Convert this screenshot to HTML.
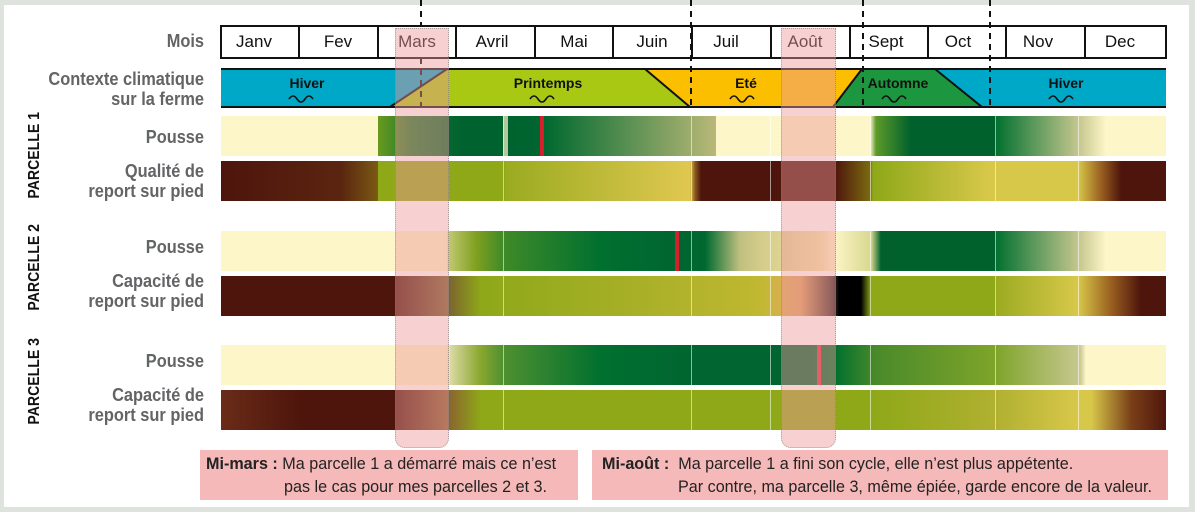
<!DOCTYPE html>
<html><head><meta charset="utf-8"><style>
body{margin:0;width:1195px;height:512px;background:#dfe3de;position:relative;overflow:hidden;font-family:"Liberation Sans",sans-serif}
#panel{position:absolute;left:4px;top:5px;width:1185px;height:502px;background:#fff}
.a{position:absolute}
.lbl{position:absolute;right:991px;text-align:right;color:#636466;font-weight:bold;font-size:18px;line-height:20px;white-space:nowrap;transform:scaleX(.91);transform-origin:right center}
.bar{position:absolute;left:221px;width:945px;height:40px}
.sep{position:absolute;width:1px;background:rgba(255,255,255,.55)}
.par{position:absolute;font-weight:bold;font-size:16px;color:#111;transform:rotate(-90deg) scaleX(.88);transform-origin:center;white-space:nowrap}
.ov{position:absolute;top:28px;height:418px;background:rgba(238,150,152,.45);border:1px dotted rgba(120,120,120,.6);border-radius:0 0 10px 10px}
.box{position:absolute;top:450px;height:50px;background:#f6b9b9;font-size:17px;line-height:22px;color:#222}
.box div{transform:scaleX(.95);transform-origin:left center;white-space:nowrap}
</style></head><body>
<div id="panel"></div>

<div class="lbl" style="top:31px">Mois</div>
<div class="lbl" style="top:69px">Contexte climatique<br>sur la ferme</div>
<div class="lbl" style="top:127px">Pousse</div>
<div class="lbl" style="top:161px">Qualité de<br>report sur pied</div>
<div class="lbl" style="top:237px">Pousse</div>
<div class="lbl" style="top:271px">Capacité de<br>report sur pied</div>
<div class="lbl" style="top:351px">Pousse</div>
<div class="lbl" style="top:385px">Capacité de<br>report sur pied</div>
<div class="par" style="left:-10px;top:150px;width:90px;text-align:center">PARCELLE 1</div>
<div class="par" style="left:-10px;top:262px;width:90px;text-align:center">PARCELLE 2</div>
<div class="par" style="left:-10px;top:376px;width:90px;text-align:center">PARCELLE 3</div>

<div class="bar" style="top:116px;background:linear-gradient(90deg,#fdf6c8 0,#fdf6c8 157px,#6a9a20 157px,#1f7a2a 190px,#00632f 240px,#00632f 287px,#006530 320px,#00692f 324px,#b9b878 495px,#fdf6c8 495px,#fdf6c8 649px,#5c9a2a 655px,#00612c 690px,#00612c 774px,#00702f 774px,#c8c890 859px,#fdf6c8 885px)"></div>
<div class="a" style="left:503px;top:116px;width:5px;height:40px;background:#fdf6c8;opacity:.7"></div>
<div class="a" style="left:540px;top:116px;width:4px;height:40px;background:#d4202a"></div>
<div class="bar" style="top:161px;background:linear-gradient(90deg,#4e150c 0,#5a2510 120px,#7a5a12 157px,#8ea818 157px,#8ea818 284px,#9aab20 284px,#e0c850 469px,#8a5a20 474px,#4e150c 480px,#4e150c 614px,#7a6a10 649px,#8ea818 652px,#d8c84a 769px,#d8c84a 857px,#9a6020 880px,#4e150c 900px)"></div>
<div class="bar" style="top:231px;background:linear-gradient(90deg,#fdf6c8 0,#fdf6c8 226px,#c0c870 228px,#80a020 255px,#3f8a28 282px,#00702f 380px,#006530 455px,#006530 460px,#00692f 484px,#c0c080 519px,#d4cc8a 540px,#f0e4a8 600px,#fdf6c8 612px,#d8d890 650px,#00612c 660px,#00612c 774px,#00702f 774px,#c8c890 859px,#fdf6c8 885px)"></div>
<div class="a" style="left:675px;top:231px;width:4px;height:40px;background:#d4202a"></div>
<div class="bar" style="top:276px;background:linear-gradient(90deg,#4e150c 0,#4e150c 174px,#7a6030 226px,#8ea818 260px,#a8b028 420px,#c0b830 540px,#d8b050 560px,#dca060 580px,#40302a 612px,#000 618px,#000 640px,#8ea818 650px,#8ea818 774px,#9aab20 774px,#d8c84a 857px,#9a6020 890px,#4e150c 920px)"></div>
<div class="bar" style="top:345px;background:linear-gradient(90deg,#fdf6c8 0,#fdf6c8 226px,#d8d8a0 230px,#8aa830 259px,#4f9030 282px,#00702f 380px,#006530 471px,#006530 590px,#00702f 614px,#4a8a2a 655px,#7ea42a 774px,#c8c890 859px,#fdf6c8 865px)"></div>
<div class="a" style="left:817px;top:345px;width:4px;height:40px;background:#e03040"></div>
<div class="bar" style="top:390px;background:linear-gradient(90deg,#6a2c18 0,#4e150c 80px,#4e150c 174px,#8a6030 226px,#8ea818 260px,#8ea818 649px,#b0b030 774px,#d8c84a 857px,#d8c84a 870px,#7a4018 910px,#4e150c 945px)"></div>
<div class="sep" style="left:503px;top:116px;height:314px"></div>
<div class="sep" style="left:691px;top:116px;height:314px"></div>
<div class="sep" style="left:770px;top:116px;height:314px"></div>
<div class="sep" style="left:870px;top:116px;height:314px"></div>
<div class="sep" style="left:995px;top:116px;height:314px"></div>
<div class="sep" style="left:1078px;top:116px;height:314px"></div>

<svg class="a" style="left:0;top:0" width="1195" height="512">
<g font-family="Liberation Sans, sans-serif" font-size="17" fill="#111" text-anchor="middle">
<rect x="221" y="26" width="945" height="32" fill="#fff" stroke="#111" stroke-width="2"/>
<g stroke="#111" stroke-width="2">
<line x1="299" y1="26" x2="299" y2="58"/><line x1="378" y1="26" x2="378" y2="58"/><line x1="456" y1="26" x2="456" y2="58"/><line x1="535" y1="26" x2="535" y2="58"/><line x1="613" y1="26" x2="613" y2="58"/><line x1="692" y1="26" x2="692" y2="58"/><line x1="771" y1="26" x2="771" y2="58"/><line x1="850" y1="26" x2="850" y2="58"/><line x1="928" y1="26" x2="928" y2="58"/><line x1="1006" y1="26" x2="1006" y2="58"/><line x1="1085" y1="26" x2="1085" y2="58"/>
</g>
<text x="254" y="47">Janv</text><text x="338" y="47">Fev</text><text x="417" y="47">Mars</text><text x="492" y="47">Avril</text><text x="574" y="47">Mai</text><text x="652" y="47">Juin</text><text x="726" y="47">Juil</text><text x="805" y="47">Août</text><text x="886" y="47">Sept</text><text x="958" y="47">Oct</text><text x="1038" y="47">Nov</text><text x="1120" y="47">Dec</text>
</g>
<polygon points="221,69 447,69 390,107 221,107" fill="#00a8c8"/>
<polygon points="447,69 645,69 690,107 390,107" fill="#a8c814"/>
<polygon points="645,69 862,69 833,107 690,107" fill="#fbbf00"/>
<polygon points="862,69 935,69 982,107 833,107" fill="#1d9640"/>
<polygon points="935,69 1166,69 1166,107 982,107" fill="#00a8c8"/>
<g stroke="#111" stroke-width="2" fill="none">
<line x1="221" y1="69" x2="1166" y2="69"/><line x1="221" y1="107" x2="1166" y2="107"/>
<line x1="390" y1="107" x2="447" y2="69"/><line x1="645" y1="69" x2="690" y2="107"/><line x1="833" y1="107" x2="862" y2="69"/><line x1="935" y1="69" x2="982" y2="107"/>
</g>
<g font-family="Liberation Sans, sans-serif" font-weight="bold" font-size="14" fill="#111" text-anchor="middle">
<text x="307" y="88">Hiver</text><text x="548" y="88">Printemps</text><text x="746" y="88">Eté</text><text x="898" y="88">Automne</text><text x="1066" y="88">Hiver</text>
</g>
<g stroke="#111" stroke-width="1.6" fill="none">
<path d="M289,99 q4,-6 8,0 t8,0 t8,0"/><path d="M530,99 q4,-6 8,0 t8,0 t8,0"/><path d="M730,99 q4,-6 8,0 t8,0 t8,0"/><path d="M882,99 q4,-6 8,0 t8,0 t8,0"/><path d="M1049,99 q4,-6 8,0 t8,0 t8,0"/>
</g>
<g stroke="#111" stroke-width="2" stroke-dasharray="6,5">
<line x1="421" y1="0" x2="421" y2="26"/><line x1="421" y1="58" x2="421" y2="108"/>
<line x1="691" y1="0" x2="691" y2="108"/><line x1="863" y1="0" x2="863" y2="108"/><line x1="990" y1="0" x2="990" y2="108"/>
</g>
</svg>

<div class="ov" style="left:395px;width:52px"></div>
<div class="ov" style="left:781px;width:53px"></div>

<div class="box" style="left:200px;width:378px">
<div style="position:absolute;left:6px;top:3px"><b>Mi-mars :</b> Ma parcelle 1 a démarré mais ce n’est</div>
<div style="position:absolute;left:84px;top:26px">pas le cas pour mes parcelles 2 et 3.</div>
</div>
<div class="box" style="left:592px;width:576px">
<div style="position:absolute;left:10px;top:3px"><b>Mi-août :</b>&nbsp; Ma parcelle 1 a fini son cycle, elle n’est plus appétente.</div>
<div style="position:absolute;left:86px;top:26px">Par contre, ma parcelle 3, même épiée, garde encore de la valeur.</div>
</div>
</body></html>
